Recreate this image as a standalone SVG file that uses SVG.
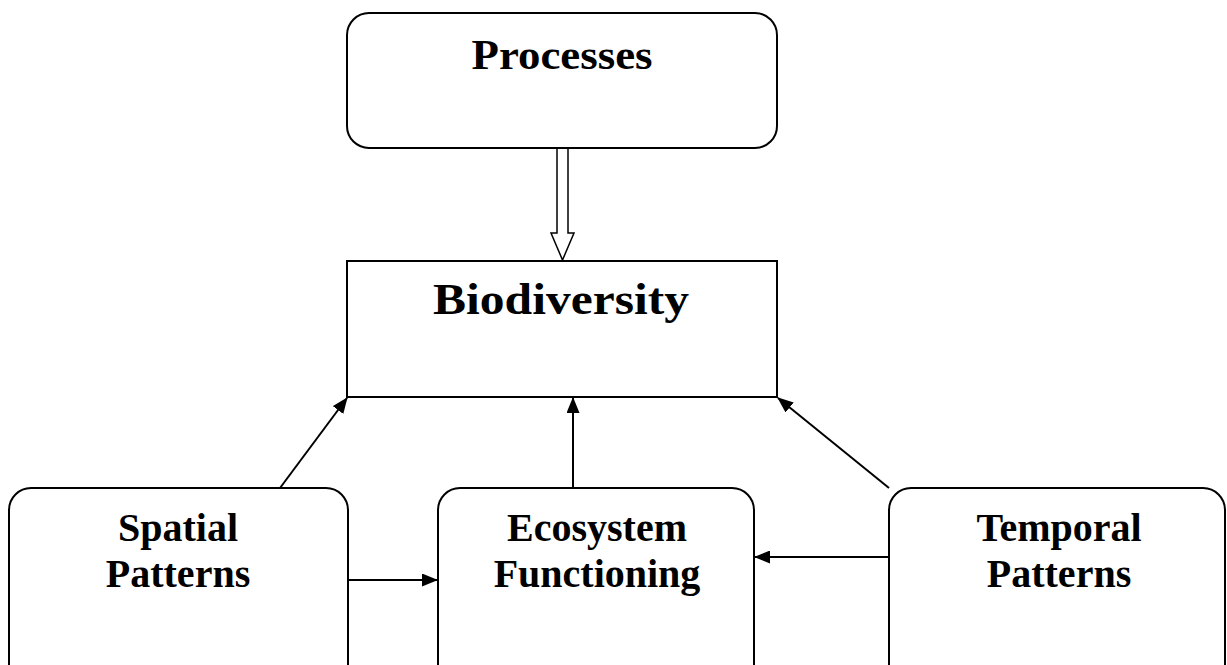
<svg xmlns="http://www.w3.org/2000/svg" width="1227" height="665" viewBox="0 0 1227 665">
<style>
.box{fill:#fff;stroke:#000;stroke-width:2}
.lbl{font-family:"Liberation Serif","Times New Roman",serif;font-weight:bold;fill:#000;text-anchor:middle}
.con{stroke:#000;stroke-width:2;fill:none}
</style>
<defs>
<marker id="ah" markerWidth="16" markerHeight="13" refX="15" refY="6.5" orient="auto" markerUnits="userSpaceOnUse">
<path d="M0,0 L16,6.5 L0,13 Z" fill="#000"/>
</marker>
</defs>
<rect width="1227" height="665" fill="#fff"/>
<g id="processes">
<rect class="box" x="347" y="13" width="430" height="135" rx="22" ry="22"/>
<text class="lbl" x="562" y="69" font-size="43" textLength="181" lengthAdjust="spacingAndGlyphs">Processes</text>
</g>
<g id="biodiversity">
<rect class="box" x="347" y="261" width="430" height="136"/>
<text class="lbl" x="561" y="314" font-size="44" textLength="256" lengthAdjust="spacingAndGlyphs">Biodiversity</text>
</g>
<g id="spatial">
<rect class="box" x="9" y="488" width="339" height="200" rx="22" ry="22"/>
<text class="lbl" x="178" y="541" font-size="40">Spatial</text>
<text class="lbl" x="178" y="587" font-size="40">Patterns</text>
</g>
<g id="ecosystem">
<rect class="box" x="438" y="488" width="316" height="200" rx="22" ry="22"/>
<text class="lbl" x="597" y="541" font-size="40">Ecosystem</text>
<text class="lbl" x="597" y="587" font-size="40">Functioning</text>
</g>
<g id="temporal">
<rect class="box" x="889" y="488" width="336" height="200" rx="22" ry="22"/>
<text class="lbl" x="1059" y="541" font-size="40">Temporal</text>
<text class="lbl" x="1059" y="587" font-size="40">Patterns</text>
</g>
<g id="connectors">
<path d="M557,149 L557,233 L551,233 L562.5,260 L574,233 L568,233 L568,149" fill="#fff" stroke="#000" stroke-width="1.5"/>
<line class="con" x1="280" y1="488" x2="347" y2="398" marker-end="url(#ah)"/>
<line class="con" x1="573" y1="488" x2="573" y2="398" marker-end="url(#ah)"/>
<line class="con" x1="889" y1="488" x2="778" y2="398" marker-end="url(#ah)"/>
<line class="con" x1="348" y1="580" x2="437" y2="580" marker-end="url(#ah)"/>
<line class="con" x1="889" y1="557" x2="755" y2="557" marker-end="url(#ah)"/>
</g>
</svg>
